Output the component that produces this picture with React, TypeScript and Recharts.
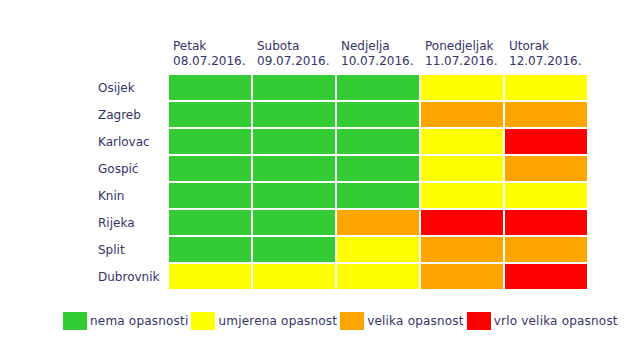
import React from 'react';
import { BarChart, Bar, XAxis, YAxis, Cell } from 'recharts';

const cities = ['Osijek', 'Zagreb', 'Karlovac', 'Gospić', 'Knin', 'Rijeka', 'Split', 'Dubrovnik'];
const dayNames = ['Petak', 'Subota', 'Nedjelja', 'Ponedjeljak', 'Utorak'];
const dayDates = ['08.07.2016.', '09.07.2016.', '10.07.2016.', '11.07.2016.', '12.07.2016.'];

// 0 = nema, 1 = umjerena, 2 = velika, 3 = vrlo velika
const petak = [0, 0, 0, 0, 0, 0, 0, 1];
const subota = [0, 0, 0, 0, 0, 0, 0, 1];
const nedjelja = [0, 0, 0, 0, 0, 2, 1, 1];
const ponedjeljak = [1, 2, 1, 1, 1, 3, 2, 2];
const utorak = [1, 2, 3, 2, 1, 3, 2, 3];

const levelNames = ['nema opasnosti', 'umjerena opasnost', 'velika opasnost', 'vrlo velika opasnost'];
const COLORS = ['#33CC33', '#FFFF00', '#FFA500', '#FF0000'];

const TEXT = '#333366';
const FONT = '"DejaVu Sans", Verdana, sans-serif';

const days = [petak, subota, nedjelja, ponedjeljak, utorak];

const data = cities.map((city, i) => {
  const row: { [key: string]: string | number } = { city };
  days.forEach((d, j) => {
    row[`d${j}`] = 1;
    row[`l${j}`] = d[i];
  });
  return row;
});

const DayTick = (props: any) => {
  const { x, y, payload } = props;
  const i = payload.value;
  if (i > 4) return null;
  return (
    <g>
      <text x={x + 5} y={y} fill={TEXT} fontSize={12} fontFamily={FONT}>
        <tspan x={x + 5} dy={-16}>{dayNames[i]}</tspan>
        <tspan x={x + 5} dy={15}>{dayDates[i]}</tspan>
      </text>
    </g>
  );
};

const CityTick = (props: any) => {
  const { y, payload } = props;
  return (
    <text x={98} y={y + 4.5} fill={TEXT} fontSize={12} fontFamily={FONT} textAnchor="start">
      {payload.value}
    </text>
  );
};

export default function App() {
  return (
    <div style={{ position: 'absolute', left: 0, top: 0, width: 625, height: 356, background: '#fff', fontFamily: FONT }}>
      <BarChart
        width={625}
        height={356}
        data={data}
        layout="vertical"
        barCategoryGap={0}
        margin={{ top: 34, right: 37, bottom: 66, left: 98 }}
      >
        <XAxis
          type="number"
          orientation="top"
          domain={[0, 5]}
          ticks={[0, 1, 2, 3, 4]}
          height={40}
          axisLine={false}
          tickLine={false}
          tick={<DayTick />}
          interval={0}
        />
        <YAxis
          type="category"
          dataKey="city"
          width={70}
          axisLine={false}
          tickLine={false}
          tick={<CityTick />}
          interval={0}
        />
        {days.map((_, j) => (
          <Bar key={j} dataKey={`d${j}`} stackId="a" stroke="#fff" strokeWidth={2} isAnimationActive={false}>
            {data.map((row, i) => (
              <Cell key={i} fill={COLORS[row[`l${j}`] as number]} />
            ))}
          </Bar>
        ))}
      </BarChart>
      <div
        style={{
          position: 'absolute',
          left: 63,
          top: 312,
          display: 'flex',
          alignItems: 'center',
          fontSize: 12,
          color: TEXT,
          whiteSpace: 'nowrap',
          letterSpacing: 0.2,
        }}
      >
        {levelNames.map((name, i) => (
          <div key={name} style={{ display: 'flex', alignItems: 'center' }}>
            <span style={{ display: 'inline-block', width: 24, height: 18, background: COLORS[i] }} />
            <span style={{ marginLeft: 3, marginRight: 3 }}>{name}</span>
          </div>
        ))}
      </div>
    </div>
  );
}
